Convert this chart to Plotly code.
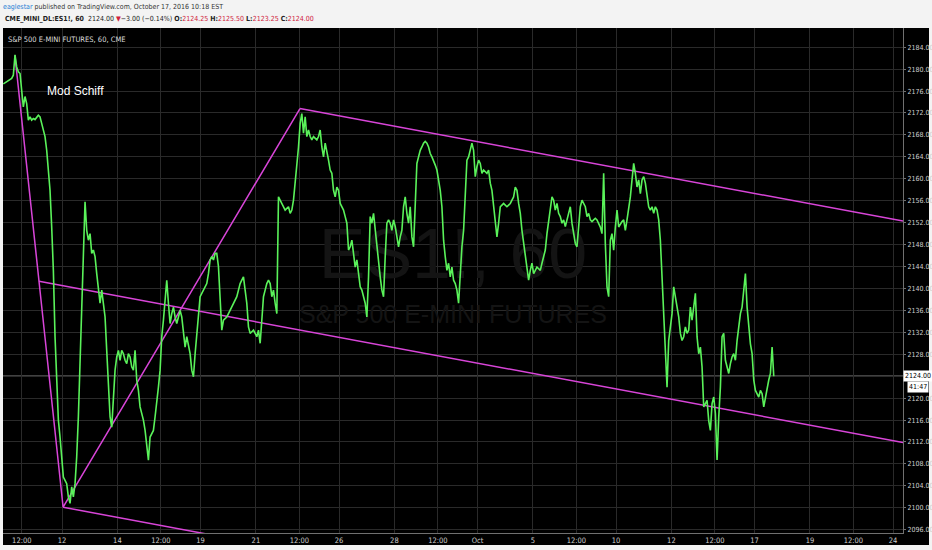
import plotly.graph_objects as go

W, H = 932, 550
NARROW = "Liberation Sans Narrow, DejaVu Sans Condensed, Arial Narrow, sans-serif"
SANS = "Liberation Sans, Arial, sans-serif"

# ES1! 60-minute trace at a fixed spacing.
# time axis = trading days, day 0 = Sep 12 2016 (weekends removed, as on TradingView)
t_start = -2.118
t_step = 0.0602
price = [
    2177.3, 2177.5, 2177.7, 2177.9, 2178.1, 2178.3, 2178.9, 2182.6, 2180.4, 2179.5, 2179.2,
    2175.6, 2173.1, 2175.0, 2173.7, 2170.7, 2171.3, 2170.7, 2171.0, 2170.8, 2171.3,
    2171.6, 2171.3, 2170.1, 2168.9, 2167.7, 2165.2, 2161.6, 2157.9, 2151.2, 2143.3,
    2131.2, 2123.3, 2116.0, 2112.9, 2109.3, 2105.6, 2105.0, 2104.4, 2102.0, 2100.8,
    2103.8, 2102.0, 2104.4, 2109.3, 2116.6, 2126.3, 2136.0, 2143.3,
    2155.8, 2150.6, 2148.8, 2150.0, 2146.4, 2147.0, 2145.8, 2142.7,
    2139.7, 2137.3, 2139.7, 2137.3, 2134.8, 2128.7, 2122.6, 2116.6, 2114.7, 2120.2, 2125.1,
    2127.5, 2128.7, 2126.9, 2128.7, 2128.1, 2126.9, 2126.3, 2128.1, 2127.5, 2125.7, 2125.1,
    2128.7, 2123.3, 2121.4, 2118.4, 2117.2, 2116.0, 2114.1, 2111.7, 2108.7, 2112.9,
    2113.5, 2114.1, 2116.6, 2119.0, 2122.0, 2125.1, 2131.2, 2134.2, 2138.5, 2141.5,
    2137.3, 2133.6, 2135.4, 2136.6, 2134.8, 2133.6, 2134.8, 2136.0, 2134.8, 2132.4,
    2129.3, 2131.2, 2129.3, 2128.1, 2125.1, 2123.9, 2128.1, 2131.2, 2135.4, 2138.5,
    2139.1, 2139.7, 2140.3, 2140.9, 2142.7,
    2145.2, 2145.8, 2145.2, 2146.4, 2146.4, 2144.0,
    2137.3, 2132.4, 2134.2, 2134.5, 2134.8, 2135.4, 2136.0, 2136.6, 2137.3, 2137.9,
    2138.5, 2139.7, 2140.9, 2141.5, 2142.1, 2139.7, 2137.3, 2133.0, 2131.8, 2132.1,
    2132.4, 2131.8, 2131.2, 2132.4, 2130.0, 2134.2, 2138.5, 2139.7, 2140.9, 2141.5,
    2140.9, 2138.5, 2139.7, 2137.3, 2135.4,
    2156.7, 2156.1, 2155.5, 2154.9, 2154.3, 2154.6, 2154.9, 2153.7,
    2154.3, 2156.1, 2159.2, 2162.2, 2165.8, 2170.1, 2171.9, 2168.3, 2171.3, 2167.7,
    2168.9, 2167.7, 2167.1, 2167.7, 2167.4, 2167.1, 2167.7, 2168.9, 2165.8, 2164.0,
    2166.5, 2165.2, 2163.4, 2161.6, 2161.0, 2157.9,
    2156.7, 2158.5, 2157.9, 2155.5, 2154.9, 2154.3, 2153.1, 2151.9, 2147.0, 2147.6,
    2148.8, 2146.4, 2143.9, 2145.2, 2142.1, 2140.3, 2139.7, 2138.5, 2137.3, 2134.8,
    2142.1, 2153.1, 2151.9, 2153.7, 2150.6, 2147.6, 2145.2, 2142.1, 2139.7, 2138.5,
    2145.8, 2151.9, 2152.5, 2151.9, 2150.6, 2152.5, 2151.3, 2149.4, 2147.6, 2149.4,
    2150.6, 2154.9, 2156.7, 2153.7, 2151.9, 2154.9, 2149.4, 2147.6, 2156.7, 2162.8,
    2164.0, 2165.2, 2165.8, 2166.5, 2166.8, 2166.5, 2165.8, 2164.6, 2164.0, 2163.4,
    2162.5, 2161.6, 2159.8, 2157.9, 2154.9, 2148.8, 2145.8, 2143.3, 2144.6, 2142.1,
    2143.9, 2141.5, 2140.9, 2139.7, 2137.3, 2143.3, 2147.6, 2150.6, 2157.9, 2163.4,
    2164.0, 2165.2, 2166.5, 2165.2, 2160.4, 2162.2, 2163.4, 2162.8, 2161.0, 2161.6,
    2161.3, 2161.0, 2161.6, 2159.2, 2157.9, 2154.9, 2151.9, 2149.4, 2151.9, 2154.9,
    2155.2, 2155.5, 2155.2, 2154.9, 2155.2, 2155.5, 2156.1, 2156.7, 2158.5, 2157.9,
    2155.5, 2153.7, 2150.6, 2148.2, 2146.4, 2143.9, 2141.5, 2143.3, 2144.6, 2142.7,
    2143.3, 2143.9, 2143.6, 2143.3, 2144.6, 2145.8, 2147.0, 2150.0, 2152.5, 2154.3,
    2156.7, 2156.1, 2154.3, 2155.5, 2153.7, 2153.1, 2151.9, 2152.5, 2151.3, 2152.5,
    2153.7, 2154.9, 2151.9, 2150.0, 2148.2, 2147.6, 2151.9, 2154.9, 2156.1, 2155.5,
    2154.9, 2153.1, 2153.7, 2152.5,
    2152.2, 2152.5, 2152.8, 2152.5, 2151.8, 2151.2, 2150.0, 2161.0, 2148.2, 2140.3,
    2138.5, 2148.8, 2150.0, 2147.0, 2151.2, 2154.3, 2151.2, 2151.8, 2152.2, 2152.5,
    2150.6, 2152.5, 2154.3, 2156.7, 2159.8, 2162.8,
    2161.0, 2158.5, 2159.8, 2157.3, 2159.8, 2160.4, 2159.2, 2156.7, 2154.9, 2154.3,
    2154.9, 2153.7, 2154.9, 2154.3, 2152.5, 2148.8, 2142.7, 2135.4, 2129.3, 2122.0,
    2130.5, 2133.0, 2135.4, 2140.3, 2138.5, 2136.6, 2134.8, 2131.8, 2130.5, 2131.2,
    2133.0, 2131.8, 2132.4, 2136.6, 2134.2, 2136.6, 2139.1, 2131.2, 2128.1, 2129.3,
    2125.7, 2118.4, 2119.0, 2119.6, 2115.9, 2114.1, 2119.0, 2120.2, 2117.2, 2108.7,
    2116.5, 2122.0, 2131.2, 2131.8, 2126.9, 2125.7, 2124.5, 2126.3, 2127.5, 2128.1,
    2126.9, 2130.5, 2133.0, 2135.4, 2136.6, 2140.3, 2142.7, 2136.6, 2133.0, 2129.9,
    2128.1, 2123.3, 2121.4, 2120.8, 2120.2, 2121.4, 2120.8, 2118.4, 2120.2, 2122.0,
    2123.3, 2124.5, 2129.3, 2124.0,
]
t_days = [t_start + i * t_step for i in range(len(price))]

# Modified Schiff pitchfork pivots (trading day, price)
piv_a = (-1.70, 2182.5)
piv_b = (0.04, 2100.1)
piv_c = (8.59, 2172.8)

last_price = 2124.00
countdown = "41:47"

tick_days = [-1.45, 0, 2, 3.57, 5, 7, 8.57, 10, 12, 13.57, 15, 17, 18.57,
             20, 22, 23.57, 25, 27, 28.57, 30]
tick_text = ["12:00", "12", "14", "12:00", "19", "21", "12:00", "26", "28", "12:00",
             "Oct", "5", "12:00", "10", "12", "12:00", "17", "19", "12:00", "24"]

x_range = [-2.13, 30.36]
y_range = [2095.4, 2187.5]

GREEN = "#5af25a"
MAGENTA = "#d845d8"
RED = "#d0213c"
GRID = "#2a2a2a"
SMALL = 7.5
AXIS_FONT = 7

fig = go.Figure()

# watermark, drawn first so it sits under everything
x_mid = sum(x_range) / 2
span = y_range[1] - y_range[0]
fig.add_trace(go.Scatter(
    x=[x_mid], y=[y_range[0] + 0.54 * span], mode="text", text=["ES1!, 60"],
    textfont=dict(size=70, color="#141414", family=SANS), hoverinfo="skip"))
fig.add_trace(go.Scatter(
    x=[x_mid], y=[y_range[0] + 0.428 * span], mode="text", text=["S&P 500 E-MINI FUTURES"],
    textfont=dict(size=25, color="#141414", family=SANS), hoverinfo="skip"))

# pitchfork
mx, my = (piv_a[0] + piv_b[0]) / 2, (piv_a[1] + piv_b[1]) / 2
bcx, bcy = (piv_b[0] + piv_c[0]) / 2, (piv_b[1] + piv_c[1]) / 2
slope = (bcy - my) / (bcx - mx)
x_end = x_range[1]


def ray(x0, y0):
    return [x0, x_end], [y0, y0 + slope * (x_end - x0)]


fork = [
    ([piv_a[0], piv_b[0], piv_c[0]], [piv_a[1], piv_b[1], piv_c[1]]),
    ray(mx, my),
    ray(*piv_c),
    ray(*piv_b),
]
for fx, fy in fork:
    fig.add_trace(go.Scatter(x=fx, y=fy, mode="lines", hoverinfo="skip",
                             line=dict(color=MAGENTA, width=1.5)))

fig.add_trace(go.Scatter(x=t_days, y=price, mode="lines", hoverinfo="skip",
                         line=dict(color=GREEN, width=1.6)))

fig.add_shape(type="rect", xref="paper", yref="paper", x0=3 / W, x1=929 / W,
              y0=5 / H, y1=1 - 28 / H, fillcolor="#000000", line_width=0, layer="below")
fig.add_shape(type="line", xref="x domain", yref="y", x0=0, x1=1,
              y0=last_price, y1=last_price, line=dict(color="#c8c8c8", width=1), layer="below")

header1 = ("<span style='color:#2a7fd4'>eaglestar</span> published on TradingView.com, "
           "October 17, 2016 10:18 EST")
header2 = ("<b>CME_MINI_DL:ES1!, 60</b>  2124.00 <span style='color:%s'>▼</span>−3.00 (−0.14%%) "
           "<b>O:</b><span style='color:%s'>2124.25</span> <b>H:</b><span style='color:%s'>2125.50</span> "
           "<b>L:</b><span style='color:%s'>2123.25</span> <b>C:</b><span style='color:%s'>2124.00</span>"
           % (RED, RED, RED, RED, RED))

notes = [
    dict(text=header1, x=1 / W, y=1 - 7 / H, font=dict(size=7, color="#333", family=NARROW)),
    dict(text=header2, x=3 / W, y=1 - 19 / H, font=dict(size=7, color="#222", family=NARROW)),
    dict(text="S&P 500 E-MINI FUTURES, 60, CME", x=6 / W, y=1 - 39 / H,
         font=dict(size=SMALL, color="#dddddd", family=NARROW)),
    dict(text="Mod Schiff", x=45 / W, y=1 - 91 / H, font=dict(size=12, color="#ffffff", family=SANS)),
]
for n in notes:
    fig.add_annotation(xref="paper", yref="paper", xanchor="left", yanchor="middle",
                       showarrow=False, **n)

fig.add_annotation(xref="paper", yref="y", x=903 / W, y=last_price, xanchor="left",
                   text="%.2f" % last_price, showarrow=False, bgcolor="#ffffff",
                   borderpad=1, font=dict(size=AXIS_FONT, color="#000000", family=NARROW))
fig.add_annotation(xref="paper", yref="y", x=929 / W, y=last_price, yshift=-11,
                   xanchor="right", text=countdown, showarrow=False, bgcolor="#ffffff",
                   borderpad=1, font=dict(size=AXIS_FONT, color="#000000", family=NARROW))

fig.update_layout(
    width=W, height=H, margin=dict(l=0, r=0, t=0, b=0),
    paper_bgcolor="#f3f3f3", plot_bgcolor="#000000", showlegend=False,
    xaxis=dict(domain=[3 / W, 903 / W], range=x_range, tickvals=tick_days, ticktext=tick_text,
               automargin=False, showgrid=True, gridcolor=GRID, zeroline=False, showline=True,
               linecolor="#707070", ticks="",
               tickfont=dict(size=SMALL, color="#cfcfcf", family=NARROW), fixedrange=True),
    yaxis=dict(domain=[17 / H, 522 / H], range=y_range, side="right", tick0=2096, dtick=4,
               tickformat=".2f", automargin=False, showgrid=True, gridcolor=GRID, zeroline=False,
               showline=True, linecolor="#707070", ticks="outside", ticklen=2, tickcolor="#707070",
               tickfont=dict(size=AXIS_FONT, color="#cfcfcf", family=NARROW), fixedrange=True),
)

# the page's default body margin would push the 932x550 figure off the window
fig.write_html("out.html", post_script="document.body.style.margin='0';",
               config={"displayModeBar": False})
